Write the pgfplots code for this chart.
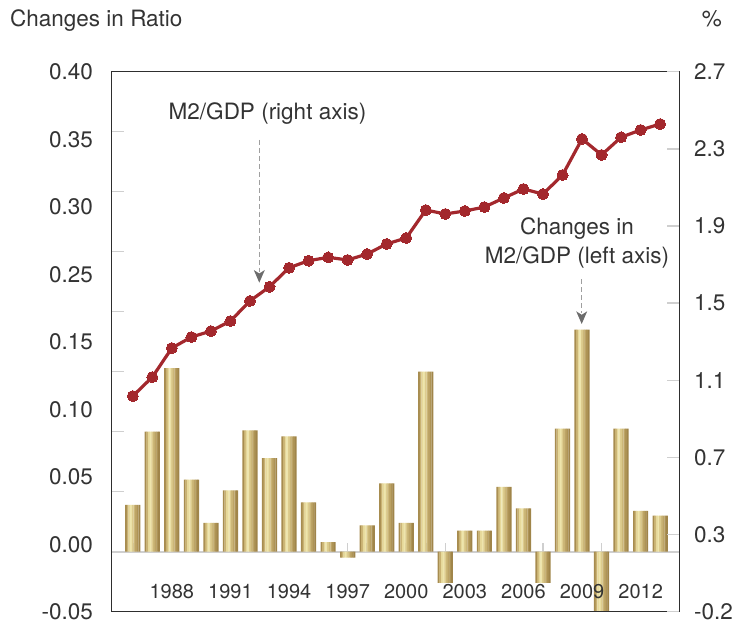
\documentclass[border=0pt]{standalone}
\usepackage{fontspec}
\setmainfont{TeX Gyre Heros}
\usepackage{pgfplots}
\usepackage{pgfplotstable}
\pgfplotsset{compat=1.18}

\definecolor{txt}{HTML}{333333}
\definecolor{mred}{HTML}{A3282D}
\definecolor{frm}{HTML}{2E2E2E}
\definecolor{tickg}{HTML}{CFCFCF}
\definecolor{gs0}{HTML}{A78C4F}
\definecolor{gs1}{HTML}{C9B272}
\definecolor{gs2}{HTML}{E6D89A}
\definecolor{gs3}{HTML}{EEE5AC}
\definecolor{gs4}{HTML}{DDCC8E}
\definecolor{gs5}{HTML}{CCB778}
\definecolor{gs6}{HTML}{BDA466}
\definecolor{gs7}{HTML}{AE9456}
\definecolor{gs8}{HTML}{A0854A}

\newcommand{\mainfont}{\fontsize{22.5bp}{27bp}\selectfont}
\newcommand{\yearfont}{\fontsize{20bp}{24bp}\selectfont}

% idx = year - 1986
\pgfplotstableread{
idx val
0 0.039
1 0.100
2 0.153
3 0.060
4 0.024
5 0.051
6 0.101
7 0.078
8 0.096
9 0.041
10 0.008
11 -0.005
12 0.022
13 0.057
14 0.024
15 0.150
16 -0.026
17 0.0175
18 0.0175
19 0.054
20 0.036
21 -0.026
22 0.1025
23 0.185
24 -0.060
25 0.1025
26 0.034
27 0.030
}\bars

\pgfplotstableread{
idx val
0 0.958
1 1.060
2 1.216
3 1.275
4 1.307
5 1.361
6 1.469
7 1.545
8 1.647
9 1.685
10 1.703
11 1.689
12 1.721
13 1.775
14 1.807
15 1.957
16 1.936
17 1.952
18 1.973
19 2.022
20 2.070
21 2.043
22 2.145
23 2.339
24 2.253
25 2.348
26 2.387
27 2.419
}\ratio

\pgfplotsset{stripe/.style={ybar, bar width=0.095, draw=none}}

\begin{document}
\begin{tikzpicture}
\useasboundingbox (0,0) rectangle (738bp,624bp);
\begin{axis}[
  at={(111.7bp,12.3bp)}, anchor=south west,
  scale only axis, width=567.6bp, height=540bp,
  xmin=-1.08, xmax=27.98, ymin=-0.05, ymax=0.40,
  axis on top,
  ytick={-0.05,0.00625,0.0625,0.11875,0.175,0.23125,0.2875,0.34375,0.40},
  yticklabels={-0.05,0.00,0.05,0.10,0.15,0.25,0.30,0.35,0.40},
  ytick pos=left,
  xtick={2,5,8,11,14,17,20,23,26},
  xticklabels={1988,1991,1994,1997,2000,2003,2006,2009,2012},
  major x tick style={draw=none},
  major y tick style={draw=none},
  xticklabel style={font=\yearfont, text=txt, anchor=center, yshift=20.5bp},
  yticklabel style={font=\mainfont, text=txt, anchor=east, inner sep=0pt, xshift=-18.7bp},
  axis line style={draw=frm, line width=1.5bp},
]
\pgfplotsinvokeforeach{0.05,0.10,0.15,0.20,0.25,0.30,0.35}{\draw[draw=tickg, line width=1.5bp] (axis cs:-1.08,#1) -- ++(12bp,0pt);}
\draw[draw=tickg, line width=1.8bp] (axis cs:-1.08,0) -- (axis cs:27.98,0);
\pgfplotsinvokeforeach{0,...,27}{\draw[draw=tickg, line width=1.5bp] (axis cs:#1,0) -- (axis cs:#1,0.0075);}
\addplot[stripe, bar shift=-0.3422, fill=gs0] table[x=idx, y=val] {\bars};
\addplot[stripe, bar shift=-0.2566, fill=gs1] table[x=idx, y=val] {\bars};
\addplot[stripe, bar shift=-0.1711, fill=gs2] table[x=idx, y=val] {\bars};
\addplot[stripe, bar shift=-0.0855, fill=gs3] table[x=idx, y=val] {\bars};
\addplot[stripe, bar shift=0, fill=gs4] table[x=idx, y=val] {\bars};
\addplot[stripe, bar shift=0.0855, fill=gs5] table[x=idx, y=val] {\bars};
\addplot[stripe, bar shift=0.1711, fill=gs6] table[x=idx, y=val] {\bars};
\addplot[stripe, bar shift=0.2566, fill=gs7] table[x=idx, y=val] {\bars};
\addplot[stripe, bar shift=0.3422, fill=gs8] table[x=idx, y=val] {\bars};
\end{axis}
\begin{axis}[
  at={(111.7bp,12.3bp)}, anchor=south west,
  scale only axis, width=567.6bp, height=540bp,
  xmin=-1.08, xmax=27.98, ymin=-0.2, ymax=2.7,
  axis y line*=right, axis x line=none,
  ytick={-0.2,0.214286,0.628571,1.042857,1.457143,1.871429,2.285714,2.7},
  yticklabels={-0.2,0.3,0.7,1.1,1.5,1.9,2.3,2.7},
  yticklabel style={font=\mainfont, text=txt, anchor=west, inner sep=0pt, xshift=14.7bp},
  major y tick style={draw=tickg, line width=1.5bp},
  major tick length=12bp, tick align=inside,
  axis line style={draw=frm, line width=1.5bp},
  clip=false,
]
\addplot[color=mred, line width=3.2bp, mark=*, mark size=5.5bp, mark options={fill=mred, draw=mred, line width=0pt}] table[x=idx, y=val] {\ratio};
\end{axis}
\node[anchor=base west, font=\mainfont, text=txt, inner sep=0pt] at (10bp,597bp) {Changes in Ratio};
\node[anchor=base west, font=\mainfont, text=txt, inner sep=0pt] at (701.7bp,597bp) {\%};
\node[anchor=base, font=\mainfont, text=txt, inner sep=0pt] at (267.5bp,504bp) {M2/GDP (right axis)};
\node[anchor=base, font=\mainfont, text=txt, inner sep=0pt] at (577bp,389bp) {Changes in};
\node[anchor=base, font=\mainfont, text=txt, inner sep=0pt] at (577bp,360.7bp) {M2/GDP (left axis)};
\draw[draw=gray!75, line width=1.3bp, dash pattern=on 5bp off 3bp] (259.3bp,484bp) -- (259.3bp,352bp);
\fill[gray!85!black] (259.3bp,341.3bp) -- (253.8bp,354bp) -- (259.3bp,350.5bp) -- (264.8bp,354bp) -- cycle;
\draw[draw=gray!75, line width=1.3bp, dash pattern=on 5bp off 3bp] (581.7bp,344.7bp) -- (581.7bp,311bp);
\fill[gray!85!black] (581.7bp,300bp) -- (576.2bp,312.7bp) -- (581.7bp,309.2bp) -- (587.2bp,312.7bp) -- cycle;
\end{tikzpicture}
\end{document}
